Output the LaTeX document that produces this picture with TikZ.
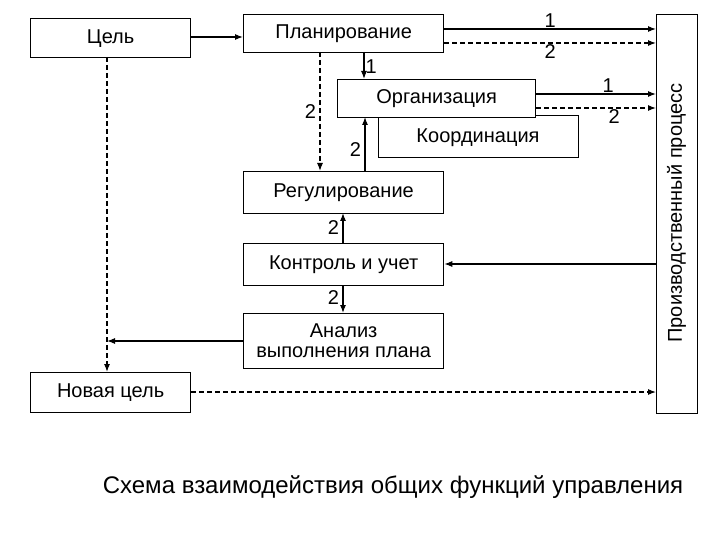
\documentclass[tikz,border=0pt]{standalone}
\usepackage{fontspec}
\setmainfont{Liberation Sans}
\usetikzlibrary{arrows.meta}
\begin{document}
\begin{tikzpicture}[x=1pt,y=-1pt,
  box/.style={draw,line width=1.3pt,fill=white,inner sep=0pt,anchor=north west,font=\fontsize{20}{22}\selectfont,align=center},
  ar/.style={line width=1.1pt,-{Latex[length=8pt,width=6pt]}},
  da/.style={ar,dashed,dash pattern=on 5pt off 3pt},
  lb/.style={font=\fontsize{20}{22}\selectfont}]
\useasboundingbox (0,0) rectangle (720,540);
\node[box,minimum width=160,minimum height=39] (goal) at (30,18) {Цель};
\node[box,minimum width=200,minimum height=38] (plan) at (243,14) {Планирование};
\node[box,minimum width=200,minimum height=42] (coord) at (378,115) {};
\node[anchor=center,font=\fontsize{20}{22}\selectfont] at (478,138) {Координация};
\node[box,minimum width=198,minimum height=38] (org) at (337,79) {Организация};
\node[box,minimum width=200,minimum height=42] (reg) at (243,171) {Регулирование};
\node[box,minimum width=200,minimum height=42] (ctrl) at (243,243) {Контроль и учет};
\node[box,minimum width=200,minimum height=55,font=\fontsize{20}{20}\selectfont] (anal) at (243,313) {Анализ\\выполнения плана};
\node[box,minimum width=160,minimum height=40] (ngoal) at (30,372) {Новая цель};
\node[box,minimum width=41,minimum height=399] (proc) at (656,14) {};
\node[rotate=90,font=\fontsize{20}{22}\selectfont] at (676.5,213) {Производственный процесс};
\draw[ar] (goal.east |- 0,37) -- (plan.west |- 0,37);
\draw[ar] (plan.east |- 0,29) -- (proc.west |- 0,29) node[lb,pos=0.5,above,inner sep=1pt] {1};
\draw[da] (plan.east |- 0,43) -- (proc.west |- 0,43) node[lb,pos=0.5,below,inner sep=1pt] {2};
\draw[ar] (364,52) -- (364,79) node[lb,pos=0.55,right,inner sep=1pt] {1};
\draw[da] (320,52) -- (320,171) node[lb,pos=0.5,left] {2};
\draw[ar] (365,171) -- (365,117) node[lb,pos=0.4,left] {2};
\draw[ar] (org.east |- 0,94) -- (proc.west |- 0,94) node[lb,pos=0.6,above,inner sep=1pt] {1};
\draw[da] (org.east |- 0,108) -- (proc.west |- 0,108) node[lb,pos=0.65,below,inner sep=1pt] {2};
\draw[ar] (343,243) -- (343,213) node[lb,pos=0.5,left] {2};
\draw[ar] (proc.west |- 0,264) -- (ctrl.east |- 0,264);
\draw[ar] (343,285) -- (343,313) node[lb,pos=0.45,left] {2};
\draw[ar] (anal.west |- 0,341) -- (107,341);
\draw[da] (107,57) -- (107,372);
\draw[da] (ngoal.east |- 0,392) -- (proc.west |- 0,392);
\node[font=\fontsize{24}{26}\selectfont] (cap) at (393,487) {Схема взаимодействия общих функций управления};
\end{tikzpicture}
\end{document}
